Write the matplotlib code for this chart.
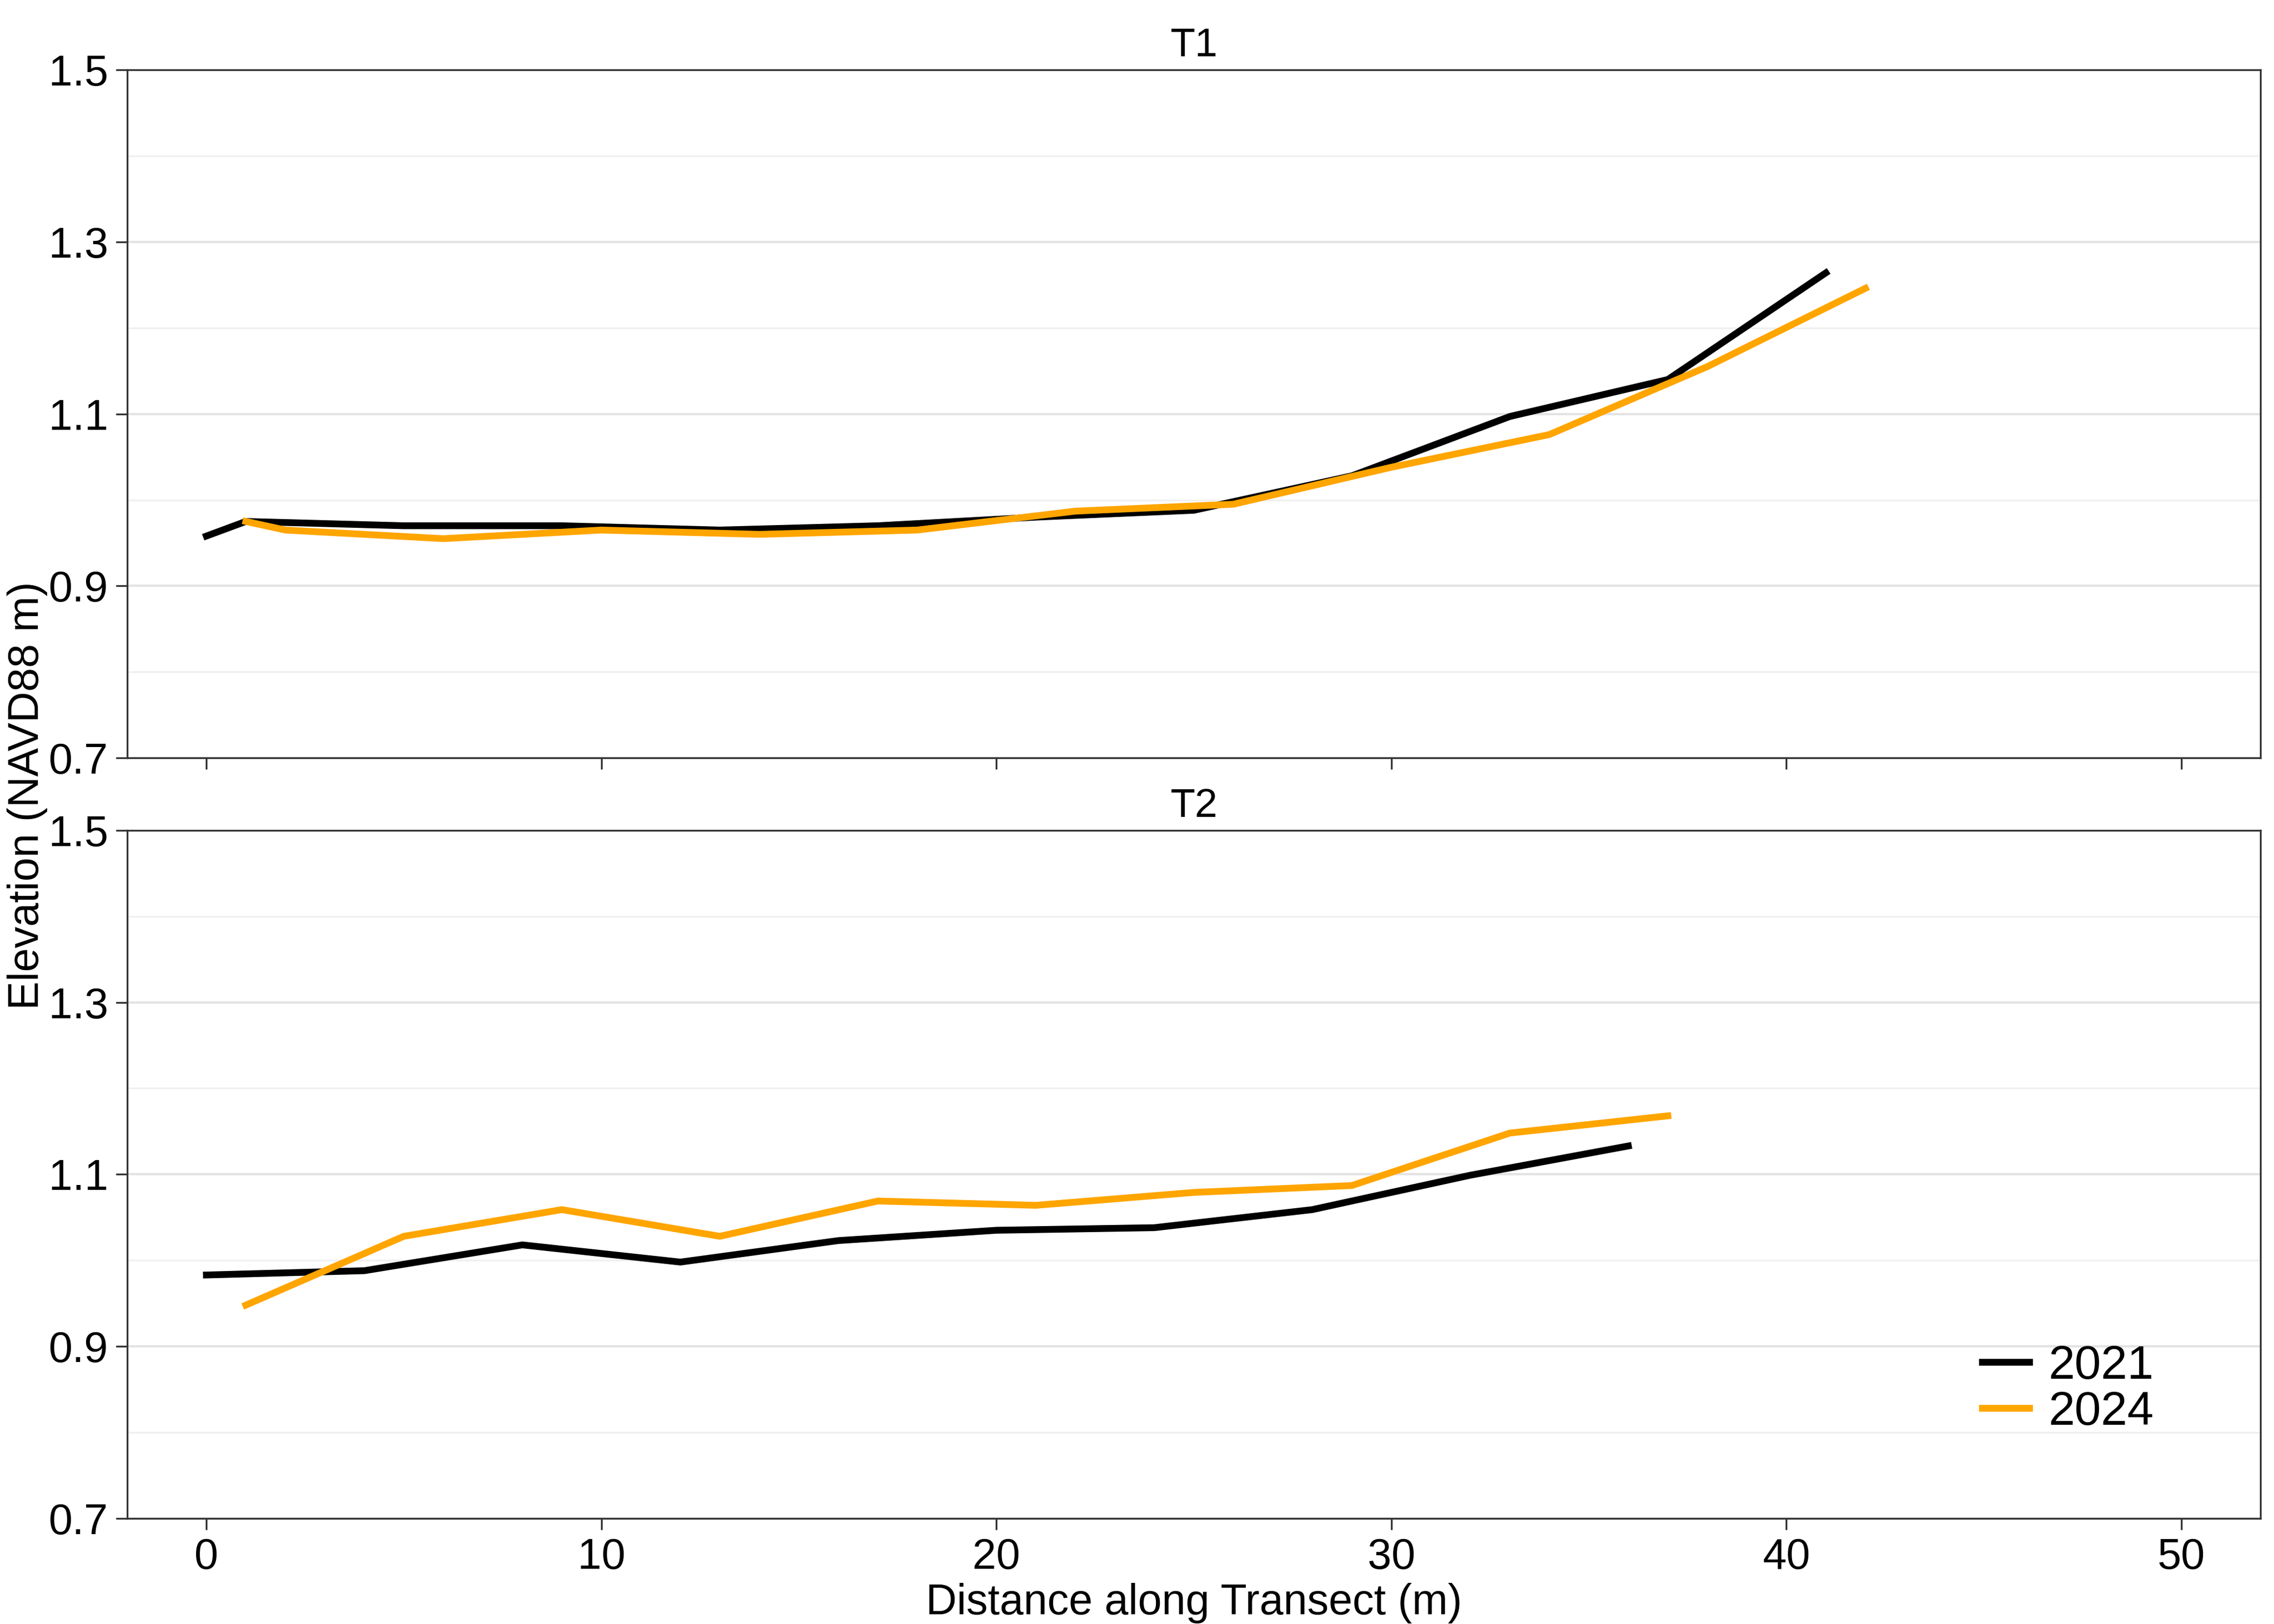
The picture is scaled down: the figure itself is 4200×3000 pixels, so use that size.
import numpy as np
import matplotlib.pyplot as plt

plt.rcParams["font.family"] = ["Liberation Sans", "DejaVu Sans"]

# T1 transect
t1_x_2021 = [0, 1, 5, 9, 13, 17, 21, 25, 29, 33, 37, 41]
t1_y_2021 = [0.958, 0.975, 0.970, 0.970, 0.965, 0.970, 0.980, 0.988, 1.028, 1.097, 1.140, 1.264]
t1_x_2024 = [1, 2, 6, 10, 14, 18, 22, 26, 30, 34, 38, 42]
t1_y_2024 = [0.975, 0.965, 0.955, 0.965, 0.960, 0.965, 0.987, 0.995, 1.038, 1.076, 1.155, 1.246]

# T2 transect
t2_x_2021 = [0, 4, 8, 12, 16, 20, 24, 28, 32, 36]
t2_y_2021 = [0.983, 0.988, 1.018, 0.998, 1.023, 1.035, 1.038, 1.059, 1.099, 1.133]
t2_x_2024 = [1, 5, 9, 13, 17, 21, 25, 29, 33, 37]
t2_y_2024 = [0.948, 1.028, 1.059, 1.028, 1.069, 1.064, 1.079, 1.087, 1.148, 1.168]

panels = [
    ("T1", t1_x_2021, t1_y_2021, t1_x_2024, t1_y_2024),
    ("T2", t2_x_2021, t2_y_2021, t2_x_2024, t2_y_2024),
]

fig, axes = plt.subplots(2, 1, figsize=(14, 10), dpi=300, sharex=True)
fig.subplots_adjust(left=0.056, right=0.994, top=0.957, bottom=0.065, hspace=0.105)

for ax, (name, x21, y21, x24, y24) in zip(axes, panels):
    ax.plot(x21, y21, color="black", linewidth=3, label="2021")
    ax.plot(x24, y24, color="#FFA500", linewidth=3, label="2024")
    ax.set_xlim(-2, 52)
    ax.set_ylim(0.7, 1.5)
    ax.set_yticks(np.arange(0.7, 1.51, 0.2))
    ax.set_yticks(np.arange(0.8, 1.5, 0.2), minor=True)
    ax.set_xticks([0, 10, 20, 30, 40, 50])
    ax.grid(True, which="major", axis="y", color="#e3e3e3", linewidth=1.0)
    ax.grid(True, which="minor", axis="y", color="#f0f0f0", linewidth=0.8)
    ax.set_axisbelow(True)
    ax.tick_params(axis="both", which="major", labelsize=19, length=5, color="#333333")
    ax.tick_params(axis="y", which="minor", length=0)
    for s in ax.spines.values():
        s.set_color("#333333")
        s.set_linewidth(0.8)
    ax.set_title(name, fontsize=18, pad=6)

axes[1].set_xlabel("Distance along Transect (m)", fontsize=19, labelpad=2)
fig.text(0.012, 0.51, "Elevation (NAVD88 m)", rotation=90, va="center", ha="center", fontsize=19)
axes[1].legend(loc="lower right", bbox_to_anchor=(0.97, 0.06), frameon=False,
               fontsize=21, handlelength=1.0, handletextpad=0.4, labelspacing=0.05)

fig.savefig("out.png", dpi=300)
